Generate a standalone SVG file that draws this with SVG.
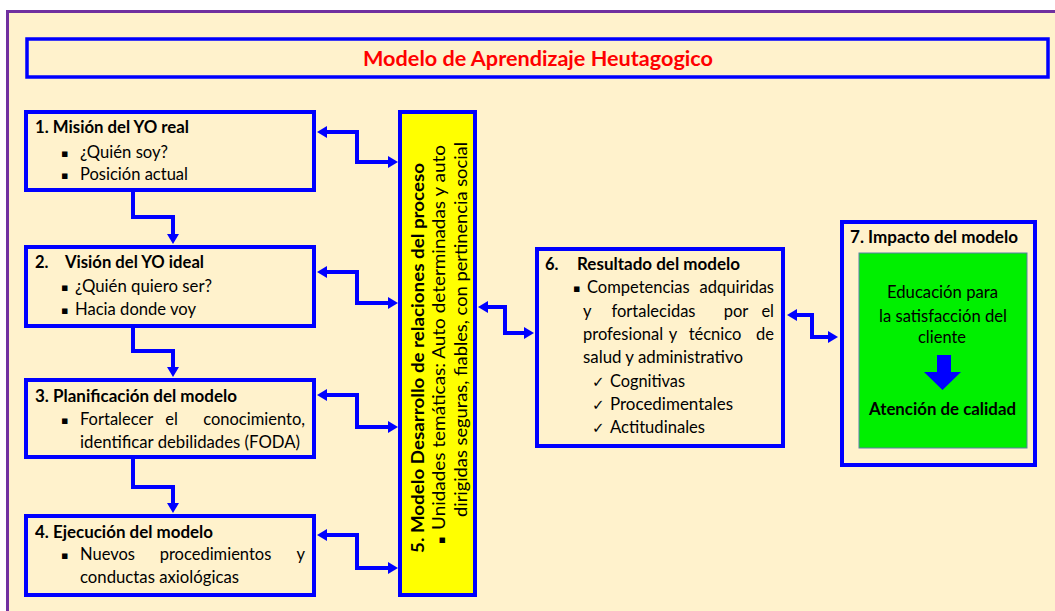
<svg xmlns="http://www.w3.org/2000/svg" width="1055" height="611" viewBox="0 0 1055 611">
<defs>
<style>
.box{fill:none;stroke:#0000FF;stroke-width:4}
.t{font-family:Lato,"Liberation Sans",sans-serif;font-size:16.5px;fill:#000}
.b{font-weight:bold}
.m{text-anchor:middle}
.e{text-anchor:end}
.bul{font-family:"DejaVu Sans",sans-serif;font-size:11px;fill:#000}
.chk{font-family:"DejaVu Sans",sans-serif;font-size:15px;fill:#000}
.con{fill:none;stroke:#0000FF;stroke-width:4}
</style>
<marker id="ah" markerUnits="userSpaceOnUse" viewBox="0 0 10 12" refX="1" refY="6" markerWidth="10" markerHeight="12" orient="auto-start-reverse">
<path d="M0,0 L10,6 L0,12 z" fill="#0000FF"/>
</marker>
</defs>
<rect x="0" y="0" width="1055" height="611" fill="#FFFFFF"/>
<rect x="7.5" y="11.5" width="1100" height="700" fill="#FFF2CC" stroke="#7030A0" stroke-width="3"/>

<g id="title">
<rect x="27" y="39" width="1021" height="38" fill="#FFF2CC" stroke="#0000FF" stroke-width="3.5"/>
<text x="363" y="66" class="t b" style="font-size:21px;fill:#FF0000" textLength="350" lengthAdjust="spacingAndGlyphs">Modelo de Aprendizaje Heutagogico</text>
</g>

<g id="node1">
<rect class="box" x="26" y="112" width="288" height="78"/>
<text class="t b" x="35" y="133" textLength="154" lengthAdjust="spacingAndGlyphs">1. Misión del YO real</text>
<text class="bul" x="61" y="157">▪</text>
<text class="t" x="80" y="158" textLength="88" lengthAdjust="spacingAndGlyphs">¿Quién soy?</text>
<text class="bul" x="61" y="179">▪</text>
<text class="t" x="80" y="180" textLength="108" lengthAdjust="spacingAndGlyphs">Posición actual</text>
</g>

<g id="node2">
<rect class="box" x="26" y="247" width="288" height="79"/>
<text class="t b" x="35" y="268">2.</text>
<text class="t b" x="65" y="268" textLength="139" lengthAdjust="spacingAndGlyphs">Visión del YO ideal</text>
<text class="bul" x="61" y="291">▪</text>
<text class="t" x="75" y="292" textLength="137" lengthAdjust="spacingAndGlyphs">¿Quién quiero ser?</text>
<text class="bul" x="61" y="314">▪</text>
<text class="t" x="75" y="315" textLength="121" lengthAdjust="spacingAndGlyphs">Hacia donde voy</text>
</g>

<g id="node3">
<rect class="box" x="26" y="380" width="288" height="77"/>
<text class="t b" x="35" y="402" textLength="202" lengthAdjust="spacingAndGlyphs">3. Planificación del modelo</text>
<text class="bul" x="61" y="424">▪</text>
<text class="t" x="80" y="425">Fortalecer</text>
<text class="t m" x="171.5" y="425">el</text>
<text class="t e" x="305" y="425">conocimiento,</text>
<text class="t" x="80" y="448" textLength="220" lengthAdjust="spacingAndGlyphs">identificar debilidades (FODA)</text>
</g>

<g id="node4">
<rect class="box" x="26" y="516" width="288" height="79"/>
<text class="t b" x="35" y="538" textLength="178" lengthAdjust="spacingAndGlyphs">4. Ejecución del modelo</text>
<text class="bul" x="61" y="559">▪</text>
<text class="t" x="80" y="560">Nuevos</text>
<text class="t m" x="215.5" y="560">procedimientos</text>
<text class="t e" x="305" y="560">y</text>
<text class="t" x="80" y="583" textLength="159" lengthAdjust="spacingAndGlyphs">conductas axiológicas</text>
</g>

<g id="node5">
<rect x="400" y="112" width="75" height="483" fill="#FFFF00" stroke="#0000FF" stroke-width="4"/>
<g transform="translate(424,553) rotate(-90)">
<text class="t b" x="0" y="0" textLength="390" lengthAdjust="spacingAndGlyphs">5. Modelo Desarrollo de relaciones del proceso</text>
<text class="bul" x="9" y="21">▪</text>
<text class="t" x="23" y="21" textLength="385" lengthAdjust="spacingAndGlyphs">Unidades temáticas: Auto determinadas y auto</text>
<text class="t" x="36" y="43" textLength="375" lengthAdjust="spacingAndGlyphs">dirigidas seguras, fiables, con pertinencia social</text>
</g>
</g>

<g id="node6">
<rect class="box" x="537" y="249" width="246" height="197"/>
<text class="t b" x="545" y="270">6.</text>
<text class="t b" x="577" y="270" textLength="163" lengthAdjust="spacingAndGlyphs">Resultado del modelo</text>
<text class="bul" x="573" y="292">▪</text>
<text class="t" x="587" y="293">Competencias</text>
<text class="t e" x="774" y="293">adquiridas</text>
<text class="t" x="583" y="317">y</text>
<text class="t m" x="653.5" y="317">fortalecidas</text>
<text class="t m" x="736" y="317">por</text>
<text class="t e" x="774" y="317">el</text>
<text class="t" x="583" y="340">profesional</text>
<text class="t m" x="673" y="340">y</text>
<text class="t m" x="715" y="340">técnico</text>
<text class="t e" x="774" y="340">de</text>
<text class="t" x="583" y="363" textLength="160" lengthAdjust="spacingAndGlyphs">salud y administrativo</text>
<text class="chk" x="592" y="387">✓</text>
<text class="t" x="610" y="387" textLength="75" lengthAdjust="spacingAndGlyphs">Cognitivas</text>
<text class="chk" x="592" y="410">✓</text>
<text class="t" x="610" y="410" textLength="123" lengthAdjust="spacingAndGlyphs">Procedimentales</text>
<text class="chk" x="592" y="433">✓</text>
<text class="t" x="610" y="433" textLength="95" lengthAdjust="spacingAndGlyphs">Actitudinales</text>
</g>

<g id="node7">
<rect class="box" x="842" y="222" width="193" height="243"/>
<text class="t b" x="850" y="243" textLength="168" lengthAdjust="spacingAndGlyphs">7. Impacto del modelo</text>
<rect x="859" y="253" width="168" height="195" fill="#00F000" stroke="#5A7FA8" stroke-width="1"/>
<text class="t" x="887" y="298" textLength="111" lengthAdjust="spacingAndGlyphs">Educación para</text>
<text class="t" x="879" y="322" textLength="128" lengthAdjust="spacingAndGlyphs">la satisfacción del</text>
<text class="t" x="918" y="343" textLength="48" lengthAdjust="spacingAndGlyphs">cliente</text>
<polygon points="937,355 951,355 951,372 961,372 942.5,390 924,372 937,372" fill="#0000FF"/>
<text class="t b" x="869" y="415" textLength="147" lengthAdjust="spacingAndGlyphs">Atención de calidad</text>
</g>

<g id="connectors">
<path class="con" d="M133,191 V217 H173 V235" marker-end="url(#ah)"/>
<path class="con" d="M133,326 V351 H173 V368" marker-end="url(#ah)"/>
<path class="con" d="M133,457 V487 H173 V504" marker-end="url(#ah)"/>
<path class="con" d="M326,132 H357 V162 H389" marker-start="url(#ah)" marker-end="url(#ah)"/>
<path class="con" d="M326,272 H357 V303 H389" marker-start="url(#ah)" marker-end="url(#ah)"/>
<path class="con" d="M326,395 H357 V427 H389" marker-start="url(#ah)" marker-end="url(#ah)"/>
<path class="con" d="M326,535 H357 V568 H389" marker-start="url(#ah)" marker-end="url(#ah)"/>
<path class="con" d="M487,307 H505 V333 H525" marker-start="url(#ah)" marker-end="url(#ah)"/>
<path class="con" d="M796,315 H812 V337 H829" marker-start="url(#ah)" marker-end="url(#ah)"/>
</g>
</svg>
